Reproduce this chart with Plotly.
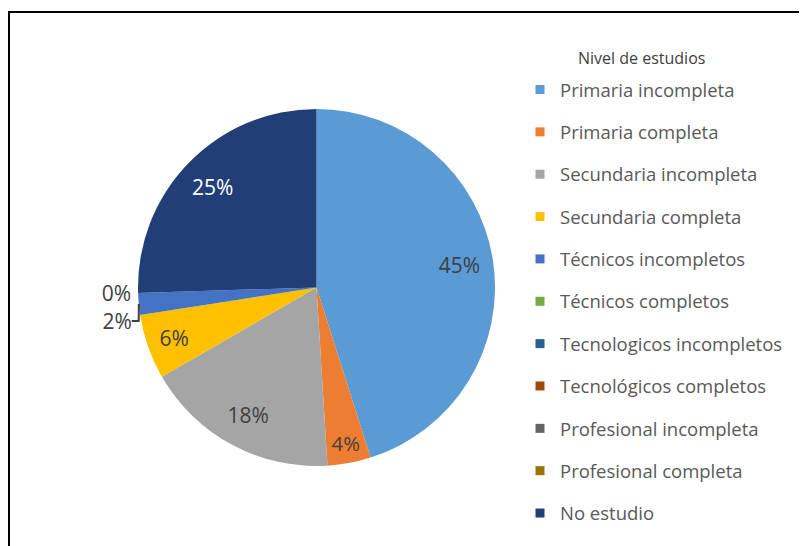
import plotly.graph_objects as go

categories = [
    "Primaria incompleta", "Primaria completa", "Secundaria incompleta",
    "Secundaria completa", "Técnicos incompletos", "Técnicos completos",
    "Tecnologicos incompletos", "Tecnológicos completos",
    "Profesional incompleta", "Profesional completa", "No estudio",
]
# estimated counts (percentages shown: 45, 4, 18, 6, 2, 0, 0, 0, 0, 0, 25)
values = [23, 2, 9, 3, 1, 0, 0, 0, 0, 0, 13]
colors = [
    "#5B9BD5", "#ED7D31", "#A5A5A5", "#FFC000", "#4472C4", "#70AD47",
    "#255E91", "#9E480E", "#636363", "#997300", "#213F76",
]
legend_title = "Nivel de estudios"

# label styling derived from the data (zero slices overlap in the original -> one visible label)
first_zero = values.index(0)
templates = ["%{percent:.0%}" if (v > 0 or i == first_zero) else "" for i, v in enumerate(values)]
text_pos = ["inside" if v >= 2 else "outside" for v in values]
text_colors = ["#FFFFFF" if c == "No estudio" else "#404040" for c in categories]

OFF = 8  # page body margin
W, H = 807 - OFF, 546 - OFF
cx, cy, R = 316.5 - OFF, 287.5 - OFF, 178.5


def px(x):
    return (x - OFF) / W


def py(y):
    return 1 - (y - OFF) / H


dom = dict(x=[(cx - R) / W, (cx + R) / W], y=[1 - (cy + R) / H, 1 - (cy - R) / H])

fig = go.Figure()
fig.add_trace(go.Pie(
    labels=categories, values=values, sort=False, direction="clockwise",
    rotation=0, marker=dict(colors=colors, line=dict(width=0)),
    textinfo="none", showlegend=False, hoverinfo="label+percent", domain=dom,
))
# transparent ring used only to place labels in the outer part of each slice
fig.add_trace(go.Pie(
    labels=categories, values=values, sort=False, direction="clockwise",
    rotation=0, hole=0.62,
    marker=dict(colors=["rgba(0,0,0,0)"] * len(values), line=dict(width=0)),
    texttemplate=templates, textposition=text_pos,
    textfont=dict(family="Open Sans", size=21, color=text_colors),
    outsidetextfont=dict(family="Open Sans", size=21, color="#404040"),
    insidetextorientation="horizontal",
    showlegend=False, hoverinfo="skip", domain=dom,
))
for name, col in zip(categories, colors):
    fig.add_trace(go.Scatter(
        x=[None], y=[None], mode="markers", name=name, legendgroup=name,
        marker=dict(symbol="square", size=9, color=col),
    ))

fig.update_layout(
    width=W, height=H, paper_bgcolor="white", plot_bgcolor="white",
    margin=dict(l=0, r=0, t=0, b=0),
    xaxis=dict(visible=False), yaxis=dict(visible=False),
    showlegend=True,
    legend=dict(x=px(520), y=py(71), xanchor="left", yanchor="top",
                font=dict(family="Open Sans", size=18.5, color="#595959"),
                tracegroupgap=15.3, itemclick=False, bgcolor="rgba(0,0,0,0)"),
    annotations=[dict(text=legend_title, x=px(576), y=py(58), xref="paper", yref="paper",
                      xanchor="left", yanchor="middle", showarrow=False,
                      font=dict(family="Open Sans", size=16, color="#404040"))],
    shapes=[
        dict(type="line", xref="paper", yref="paper", x0=px(8), x1=1, y0=py(12), y1=py(12),
             line=dict(color="black", width=2)),
        dict(type="line", xref="paper", yref="paper", x0=px(9), x1=px(9), y0=0, y1=py(12),
             line=dict(color="black", width=2)),
    ],
)
fig.write_html("out.html")
